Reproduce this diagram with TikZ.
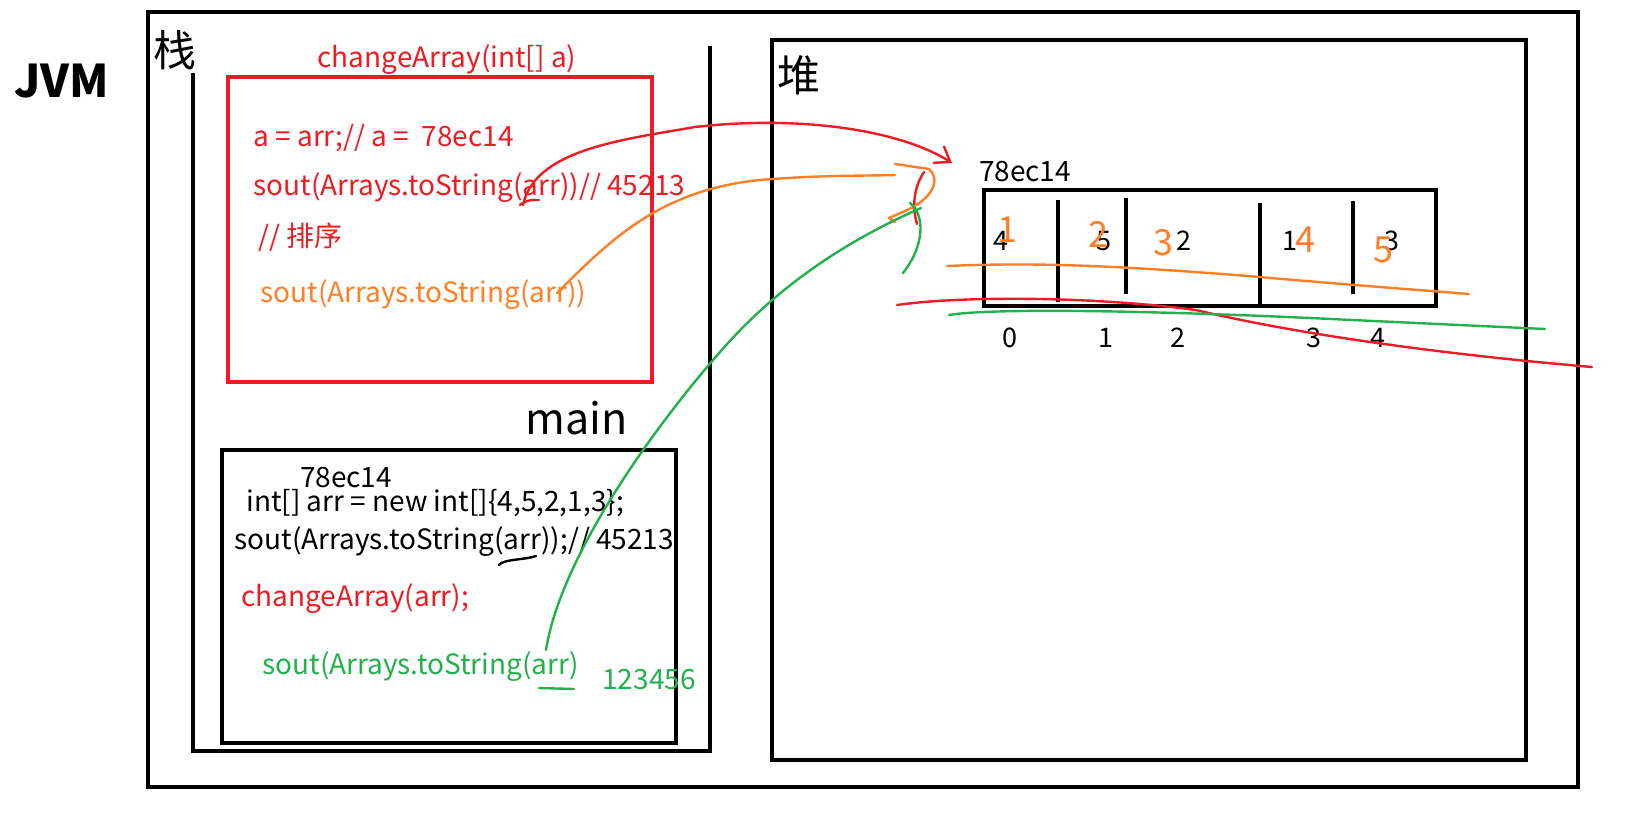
\documentclass[tikz,border=0pt]{standalone}
\usepackage{fontspec}
\setmainfont{Noto Sans CJK SC}
\usetikzlibrary{positioning,arrows.meta}

\definecolor{redink}{RGB}{237,28,36}
\definecolor{orangeink}{RGB}{255,127,39}
\definecolor{greenink}{RGB}{34,177,76}

\begin{document}
\begin{tikzpicture}[
    x=0.5pt, y=-0.5pt,
    frame/.style={draw, line width=2pt},
    code_line/.style={anchor=west, inner sep=0pt, font=\fontsize{14}{17}\selectfont},
    big_lbl/.style={inner sep=0pt, font=\fontsize{21.5}{25}\selectfont},
    cell_val/.style={inner sep=0pt, font=\fontsize{13.5}{16}\selectfont},
    hand_val/.style={inner sep=0pt, text=orangeink, font=\fontsize{18}{21}\selectfont\itshape},
    ink/.style={line width=1.2pt, line cap=round, line join=round}
]
\useasboundingbox (0,0) rectangle (1631,813);

% JVM Part
\node[big_lbl, font=\fontsize{22.5}{26}\selectfont\bfseries] (jvm_lbl) at (62,81) {JVM};
\draw[frame] (148,12) rectangle (1578,787);

% Stack Part
\node[big_lbl] (stack_lbl) at (175,50) {栈};
\draw[line width=2pt] (193,73) |- (710,751) -- (710,46);

% changeArray frame
\node[code_line, anchor=center, text=redink] (chg_title) at (447,60) {changeArray(int[] a)};
\draw[frame, redink] (228,77) rectangle (652,382);
\node[code_line, text=redink] (chg_l1) at (253,138) {a = arr;// a = \ 78ec14};
\node[code_line, text=redink] (chg_l2) at (253,188) {sout(Arrays.toString(arr))// 45213};
\node[code_line, text=redink] (chg_l3) at (258,237) {// 排序};
\node[code_line, text=orangeink] (chg_l4) at (260,295) {sout(Arrays.toString(arr))};

% main frame
\node[big_lbl] (main_lbl) at (577,418) {main};
\draw[frame] (222,450) rectangle (676,743);
\node[code_line, anchor=center] (main_addr) at (346,478) {78ec14};
\node[code_line] (main_l1) at (246,503) {int[] arr = new int[]\{4,5,2,1,3\};};
\node[code_line] (main_l2) at (234,542) {sout(Arrays.toString(arr));// 45213};
\node[code_line, text=redink] (main_l3) at (241,599) {changeArray(arr);};
\node[code_line, text=greenink] (main_l4) at (262,667) {sout(Arrays.toString(arr)};
\node[code_line, anchor=center, text=greenink] (main_out) at (649,680) {123456};

% Heap Part
\node[big_lbl] (heap_lbl) at (799,75) {堆};
\draw[frame] (772,40) rectangle (1526,760);
\node[code_line, anchor=center] (heap_addr) at (1025,172) {78ec14};
\draw[line width=2pt] (984,190) rectangle (1436,306);
\draw[line width=2pt] (1058,200) -- (1058,302);
\draw[line width=2pt] (1126,198) -- (1126,294);
\draw[line width=2pt] (1260,203) -- (1260,305);
\draw[line width=2pt] (1353,201) -- (1353,294);

\foreach \x/\v in {1001/4,1104/5,1184/2,1290/1,1392/3}
    \node[cell_val] at (\x,241) {\v};
\foreach \x/\i in {1010/0,1106/1,1178/2,1314/3,1378/4}
    \node[cell_val] at (\x,338) {\i};

% sorted values written over the cells
\node[hand_val] (hv1) at (1007,230) {1};
\node[hand_val] (hv2) at (1098,234) {2};
\node[hand_val] (hv3) at (1163,243) {3};
\node[hand_val] (hv4) at (1305,240) {4};
\node[hand_val] (hv5) at (1383,250) {5};

% references into the heap
\coordinate (red_from) at (523,205);
\coordinate (red_to) at (952,163);
\coordinate (org_from) at (557,293);
\coordinate (org_to) at (895,175);
\coordinate (grn_from) at (546,650);
\coordinate (grn_to) at (921,208);

\draw[ink, redink, -{Straight Barb[length=7pt, width=10pt]}] (red_from)
    .. controls (535,150) and (620,140) .. (695,127)
    .. controls (800,115) and (900,130) .. (red_to);
\draw[ink, redink] (924,172) .. controls (912,190) and (913,210) .. (917,224);
\draw[ink, redink] (520,205) .. controls (528,199) and (533,200) .. (539,200);

\draw[ink, orangeink] (org_from)
    .. controls (610,240) and (660,190) .. (760,180)
    .. controls (820,175) and (860,176) .. (org_to);
\draw[ink, orangeink] (895,164) -- (929,169) .. controls (940,178) and (935,198) .. (905,211)
    -- (889,218) -- (895,222);

\draw[ink, greenink] (grn_from)
    .. controls (560,560) and (650,430) .. (728,343)
    .. controls (790,275) and (860,235) .. (grn_to);
\draw[ink, greenink] (910,203) .. controls (925,215) and (925,245) .. (903,273);
\draw[ink, greenink] (539,688) -- (574,689);
\draw[ink] (499,565) .. controls (503,559) and (525,560) .. (536,556);

% crossing lines over the array
\draw[ink, orangeink] (947,266) .. controls (1040,262) and (1120,266) .. (1248,276)
    .. controls (1350,285) and (1420,290) .. (1469,294);
\draw[ink, redink] (897,305) .. controls (960,296) and (1090,296) .. (1196,310)
    .. controls (1300,335) and (1450,355) .. (1592,367);
\draw[ink, greenink] (949,315) .. controls (990,308) and (1150,310) .. (1352,320)
    -- (1545,329);

\end{tikzpicture}
\end{document}
